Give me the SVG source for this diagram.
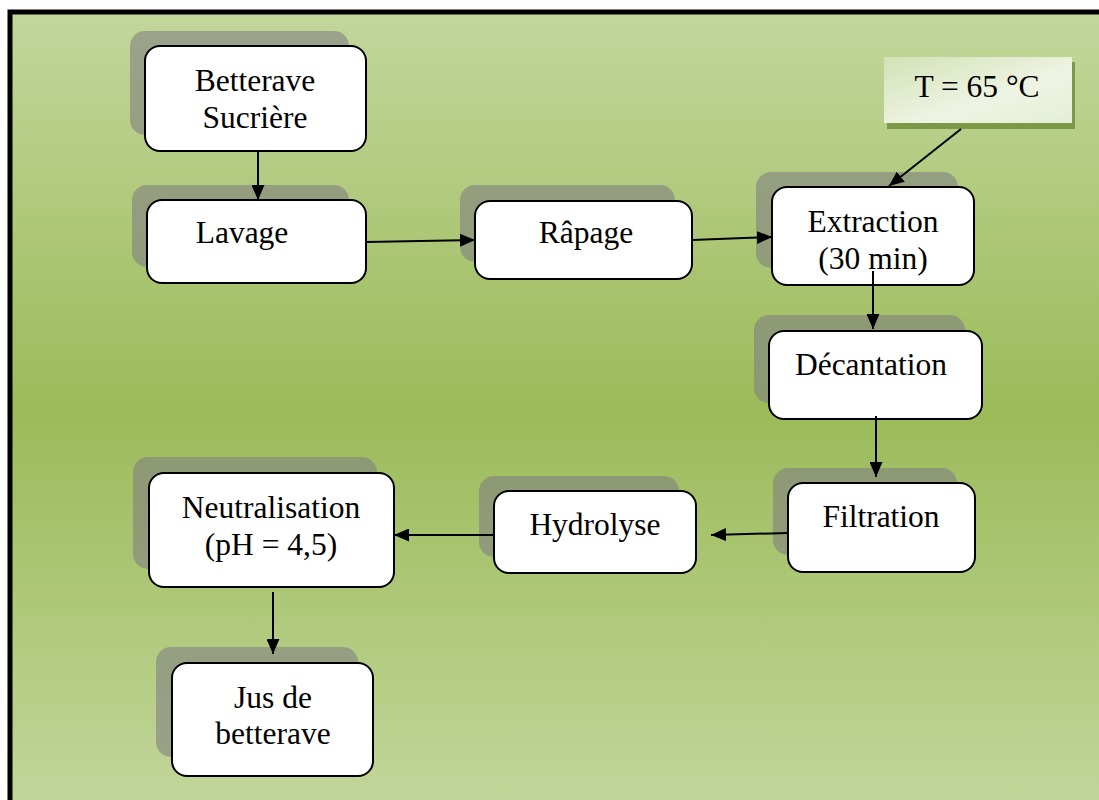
<svg xmlns="http://www.w3.org/2000/svg" width="1099" height="800" viewBox="0 0 1099 800">
  <defs>
    <linearGradient id="bg" x1="0" y1="0" x2="0" y2="1">
      <stop offset="0" stop-color="#c3d69c"/>
      <stop offset="0.5" stop-color="#9bbb59"/>
      <stop offset="1" stop-color="#c3d69c"/>
    </linearGradient>
    <linearGradient id="note" x1="0" y1="0" x2="1" y2="1">
      <stop offset="0" stop-color="#d3e1b6"/>
      <stop offset="0.6" stop-color="#eef4e3"/>
      <stop offset="1" stop-color="#e4eed4"/>
    </linearGradient>
    <marker id="arrow" viewBox="0 0 15 13" refX="15" refY="6.5" markerWidth="15" markerHeight="13" markerUnits="userSpaceOnUse" orient="auto">
      <path d="M0,0 L15,6.5 L0,13 Z" fill="#000"/>
    </marker>
  </defs>
  <style>
    .shadow { fill: #808080; fill-opacity: 0.6; }
    .box { fill: #ffffff; stroke: #000; stroke-width: 2; }
    .label { font-family: "Liberation Serif", "Times New Roman", serif; font-size: 31.5px; fill: #000; text-anchor: middle; }
    .link { fill: none; stroke: #000; stroke-width: 2; marker-end: url(#arrow); }
  </style>

  <!-- page background and frame -->
  <rect x="0" y="0" width="1099" height="800" fill="#ffffff"/>
  <rect x="10" y="12" width="1200" height="800" fill="url(#bg)" stroke="#000" stroke-width="5"/>

  <g id="betterave-sucriere">
    <rect class="shadow" x="130" y="31" width="219" height="104" rx="15"/>
    <rect class="box" x="145" y="46" width="221" height="105" rx="15"/>
    <text class="label" x="255" y="91">Betterave</text>
    <text class="label" x="255" y="128">Sucrière</text>
  </g>

  <g id="lavage">
    <rect class="shadow" x="132" y="185" width="217" height="82" rx="15"/>
    <rect class="box" x="147" y="200" width="219" height="83" rx="15"/>
    <text class="label" x="242" y="243">Lavage</text>
  </g>

  <g id="rapage">
    <rect class="shadow" x="460" y="185" width="215" height="77" rx="15"/>
    <rect class="box" x="475" y="201" width="217" height="78" rx="15"/>
    <text class="label" x="586" y="243">Râpage</text>
  </g>

  <g id="temperature">
    <rect x="887" y="62" width="188" height="67" fill="#7a9a48"/>
    <rect x="884" y="57" width="188" height="66" fill="url(#note)"/>
    <text class="label" x="977" y="97">T = 65 °C</text>
  </g>

  <g id="extraction">
    <rect class="shadow" x="756" y="172" width="202" height="96" rx="15"/>
    <rect class="box" x="772" y="187" width="202" height="98" rx="15"/>
    <text class="label" x="873" y="232">Extraction</text>
    <text class="label" x="873" y="269">(30 min)</text>
  </g>

  <g id="decantation">
    <rect class="shadow" x="754" y="315" width="211" height="88" rx="15"/>
    <rect class="box" x="769" y="331" width="213" height="88" rx="15"/>
    <text class="label" x="871" y="375">Décantation</text>
  </g>

  <g id="filtration">
    <rect class="shadow" x="773" y="468" width="184" height="87" rx="15"/>
    <rect class="box" x="788" y="483" width="187" height="89" rx="15"/>
    <text class="label" x="881" y="527">Filtration</text>
  </g>

  <g id="hydrolyse">
    <rect class="shadow" x="479" y="476" width="200" height="81" rx="15"/>
    <rect class="box" x="494" y="491" width="202" height="82" rx="15"/>
    <text class="label" x="595" y="535">Hydrolyse</text>
  </g>

  <g id="neutralisation">
    <rect class="shadow" x="133" y="457" width="244" height="112" rx="15"/>
    <rect class="box" x="149" y="473" width="245" height="114" rx="15"/>
    <text class="label" x="271" y="518">Neutralisation</text>
    <text class="label" x="271" y="555">(pH = 4,5)</text>
  </g>

  <g id="jus-de-betterave">
    <rect class="shadow" x="156" y="647" width="202" height="110" rx="15"/>
    <rect class="box" x="172" y="663" width="201" height="113" rx="15"/>
    <text class="label" x="273" y="708">Jus de</text>
    <text class="label" x="273" y="744">betterave</text>
  </g>

  <g id="connectors">
    <line class="link" x1="258" y1="151" x2="258" y2="200"/>
    <line class="link" x1="366" y1="242" x2="475" y2="240"/>
    <line class="link" x1="692" y1="240" x2="772" y2="237"/>
    <line class="link" x1="961" y1="129" x2="889" y2="186"/>
    <line class="link" x1="873" y1="271" x2="873" y2="329"/>
    <line class="link" x1="876" y1="416" x2="876" y2="477"/>
    <line class="link" x1="788" y1="533" x2="711" y2="535"/>
    <line class="link" x1="494" y1="535" x2="394" y2="535"/>
    <line class="link" x1="273" y1="592" x2="273" y2="654"/>
  </g>
</svg>
